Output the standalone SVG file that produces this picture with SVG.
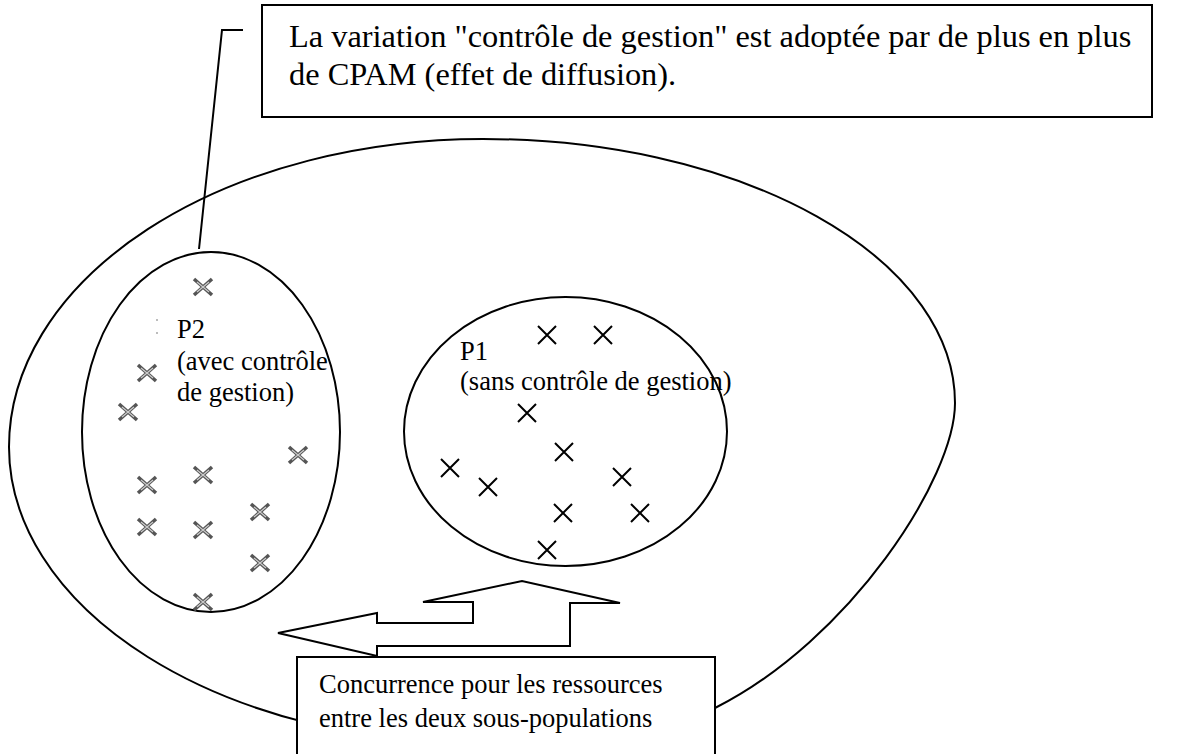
<svg xmlns="http://www.w3.org/2000/svg" width="1179" height="754" viewBox="0 0 1179 754">
  <style>
    .line { fill: none; stroke: #000; stroke-width: 2; }
    .box { fill: #fff; stroke: #000; stroke-width: 2; }
    .txt { font-family: "Liberation Serif", "Times New Roman", serif; fill: #000; }
    .big { font-size: 32.4px; }
    .small { font-size: 26.5px; }
    .xa { stroke: #000; stroke-width: 2; fill: none; }
    .xb { stroke: #555; stroke-width: 3.5; fill: none; }
    .xbi { stroke: #ccc; stroke-width: 1.2; fill: none; }
  </style>
  <defs>
    <g id="xp1">
      <path class="xa" d="M-9,-9 L9,9 M9,-9 L-9,9"/>
    </g>
    <g id="xp2">
      <path class="xb" d="M-9,-8 L9,8 M9,-8 L-9,8"/>
      <path class="xbi" d="M-6,-5 L6,5 M6,-5 L-6,5"/>
    </g>
  </defs>
  <rect width="1179" height="754" fill="#fff"/>

  <g id="population">
    <path class="line" d="M9,447 A474,308 0 0 1 483,139 A472,264 0 0 1 955,403 C955,478 850,640 715,708 C635,749.6 563,744 483,744 A474,297 0 0 1 9,447 Z"/>
  </g>

  <g id="P2">
    <ellipse class="line" cx="211" cy="432" rx="129" ry="180"/>
    <text class="txt small" x="177" y="338">P2</text>
    <text class="txt small" x="177" y="370">(avec contrôle</text>
    <text class="txt small" x="177" y="401">de gestion)</text>
    <circle cx="157" cy="320" r="0.8" fill="#666"/>
    <circle cx="157" cy="333" r="0.8" fill="#666"/>
    <use href="#xp2" x="203" y="287"/>
    <use href="#xp2" x="147" y="373"/>
    <use href="#xp2" x="128" y="412"/>
    <use href="#xp2" x="298" y="455"/>
    <use href="#xp2" x="203" y="475"/>
    <use href="#xp2" x="147" y="485"/>
    <use href="#xp2" x="147" y="527"/>
    <use href="#xp2" x="203" y="530"/>
    <use href="#xp2" x="260" y="512"/>
    <use href="#xp2" x="260" y="563"/>
    <use href="#xp2" x="203" y="602"/>
  </g>

  <g id="P1">
    <ellipse class="line" cx="565.5" cy="431.5" rx="161.5" ry="134.5"/>
    <text class="txt small" x="460" y="360">P1</text>
    <text class="txt small" x="460" y="390">(sans contrôle de gestion)</text>
    <use href="#xp1" x="547" y="335"/>
    <use href="#xp1" x="603" y="335"/>
    <use href="#xp1" x="527" y="413"/>
    <use href="#xp1" x="564" y="452"/>
    <use href="#xp1" x="450" y="468"/>
    <use href="#xp1" x="488" y="487"/>
    <use href="#xp1" x="622" y="477"/>
    <use href="#xp1" x="563" y="513"/>
    <use href="#xp1" x="640" y="513"/>
    <use href="#xp1" x="547" y="550"/>
  </g>

  <g id="connectors">
    <path id="callout-leader" class="line" d="M243,30 L222,30 L199,249"/>
    <path id="competition-arrows" class="box" d="M278,633 L377,613 L377,623 L473,623 L473,602 L423,602 L522,581 L620,603 L570,603 L570,646 L377,646 L377,656 Z"/>
  </g>

  <g id="note-diffusion">
    <rect class="box" x="262" y="5" width="890" height="112"/>
    <text class="txt big" x="289" y="47">La variation "contrôle de gestion" est adoptée par de plus en plus</text>
    <text class="txt big" x="289" y="85">de CPAM (effet de diffusion).</text>
  </g>

  <g id="note-competition">
    <rect class="box" x="297" y="657" width="418" height="100"/>
    <text class="txt small" x="319" y="693">Concurrence pour les ressources</text>
    <text class="txt small" x="319" y="727">entre les deux sous-populations</text>
  </g>
</svg>
